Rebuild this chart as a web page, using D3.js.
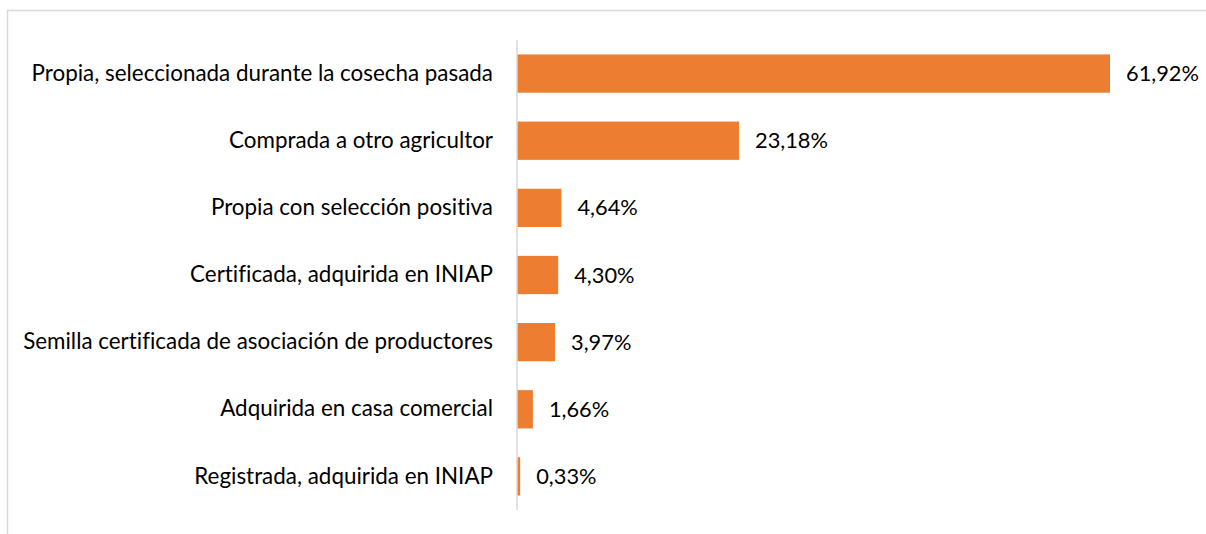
<!DOCTYPE html>
<html>
<head>
<meta charset="utf-8">
<script src="https://cdn.jsdelivr.net/npm/d3@7"></script>
<style>
body { margin: 0; background: #fff; }
text { font-family: "Lato", "Noto Sans", sans-serif; fill: #000; font-variant-ligatures: none; }
</style>
</head>
<body>
<div id="chartHolder"></div>
<script>
// categories and values
var categories = [
	"Propia, seleccionada durante la cosecha pasada",
	"Comprada a otro agricultor",
	"Propia con selección positiva",
	"Certificada, adquirida en INIAP",
	"Semilla certificada de asociación de productores",
	"Adquirida en casa comercial",
	"Registrada, adquirida en INIAP"
];
var values = [61.92, 23.18, 4.64, 4.30, 3.97, 1.66, 0.33];
var valueLabels = ["61,92%", "23,18%", "4,64%", "4,30%", "3,97%", "1,66%", "0,33%"];

var W = 1206, H = 534;
var axisX = 517, topY = 40, bottomY = 510;

var svg = d3.select("#chartHolder").append("svg")
	.attr("width", W)
	.attr("height", H);

// chart frame
svg.append("path")
	.attr("d", "M7.5," + (H + 2) + "V10.5H" + (W + 2))
	.attr("fill", "none")
	.attr("stroke", "#d9d9d9")
	.attr("stroke-width", 1.5);

var x = d3.scaleLinear().domain([0, 61.92]).range([axisX, 1110]);
var y = d3.scaleBand().domain(categories).range([topY, bottomY]).paddingInner(0.43).paddingOuter(0.215);

var rows = categories.map(function(c, i) { return {cat: c, v: values[i], lab: valueLabels[i]}; });

svg.selectAll(".bar").data(rows).enter()
	.append("rect")
	.attr("class", "bar")
	.attr("x", x(0))
	.attr("y", function(d) { return y(d.cat); })
	.attr("width", function(d) { return x(d.v) - x(0); })
	.attr("height", y.bandwidth())
	.attr("fill", "#ed7d31");

svg.selectAll(".val").data(rows).enter()
	.append("text")
	.attr("class", "val")
	.attr("x", function(d) { return x(d.v) + 16; })
	.attr("y", function(d) { return y(d.cat) + y.bandwidth() / 2; })
	.attr("dy", "0.35em")
	.style("font-size", "21.8px")
	.text(function(d) { return d.lab; });

// category axis
var yAxis = d3.axisLeft(y).tickSize(0).tickPadding(24);
var g = svg.append("g").attr("transform", "translate(" + axisX + ",0)").call(yAxis);
g.select(".domain").attr("stroke", "#d9d9d9").attr("stroke-width", 1.5)
	.attr("d", "M0," + topY + "V" + bottomY);
g.selectAll("text").style("font-size", "22.4px").style("font-family", "Lato, 'Noto Sans', sans-serif").attr("fill", "#000");
</script>
</body>
</html>
